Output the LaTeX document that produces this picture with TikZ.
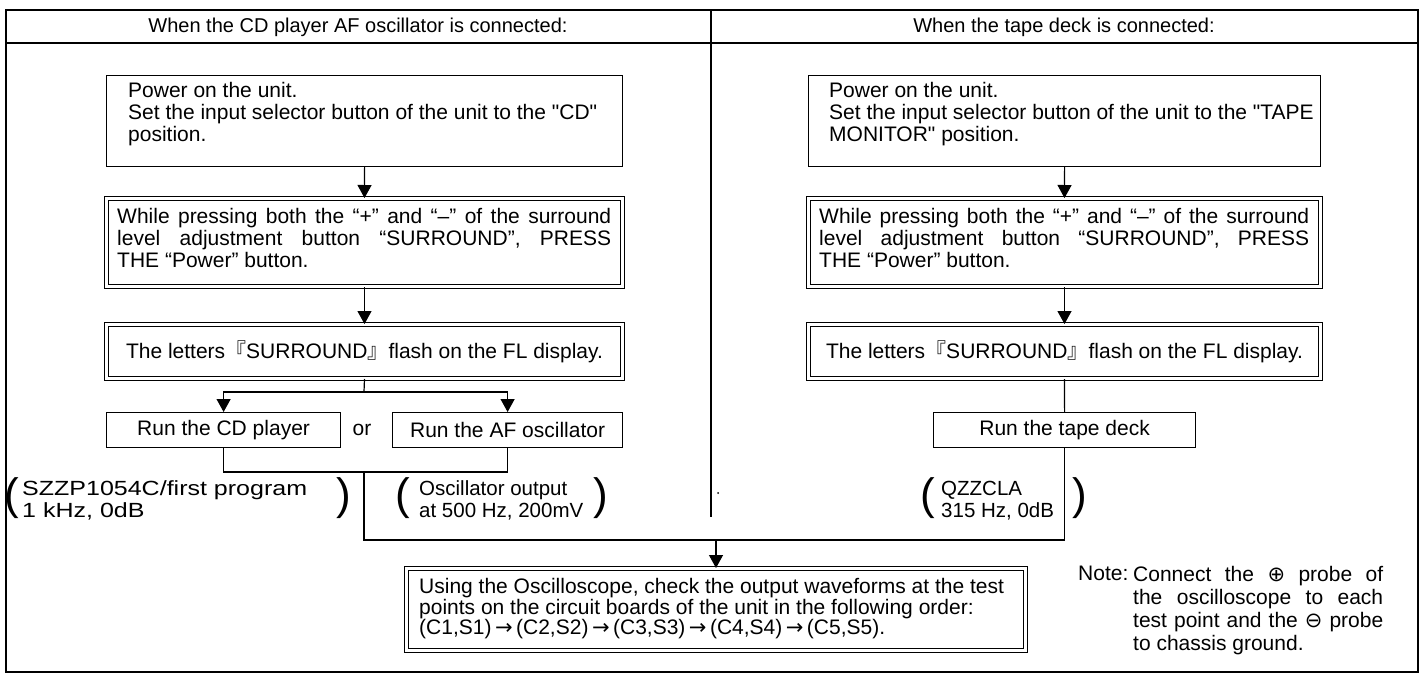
\documentclass[tikz,border=0pt]{standalone}
\usepackage{fontspec}
\setmainfont{Liberation Sans}
\newfontfamily\qfont{Liberation Sans}[Ligatures=TeXOff]
\newfontfamily\widefont{Liberation Sans}[FakeStretch=1.22]
\newfontfamily\cjkfont{Noto Sans CJK JP}
\newfontfamily\symfont{DejaVu Sans}
\newcommand{\sq}{{\qfont\symbol{34}}}
\usetikzlibrary{arrows.meta}
\tikzset{
  txt/.style={font=\fontsize{21}{22}\selectfont, inner sep=0pt},
  hdr/.style={font=\fontsize{20}{22}\selectfont, inner sep=0pt},
  ptxt/.style={font=\fontsize{20.5}{22}\selectfont, inner sep=0pt, anchor=base west},
  wptxt/.style={font={\widefont\fontsize{20.5}{22}\selectfont}, inner sep=0pt, anchor=base west},
  sbox/.style={draw, line width=1.2pt, anchor=north west, inner sep=0pt},
  dbox/.style={draw, line width=1pt, double, double distance=3pt, anchor=north west, inner sep=0pt},
  frameline/.style={line width=1.2pt},
  conn/.style={line width=1.2pt},
  arr/.style={conn, -{Triangle[width=14pt,length=13pt]}},
  paren/.style={font=\fontsize{44}{44}\selectfont, inner sep=0pt},
}
\begin{document}
\begin{tikzpicture}[x=1pt,y=-1pt]
\useasboundingbox (0,0) rectangle (1422,675);
\fill[white] (0,0) rectangle (1422,675);
% frame
\draw[frameline] (6,10) rectangle (1418,672);
\draw[frameline] (6,43) -- (1418,43);
\draw[frameline] (711,10) -- (711,517);
\node[hdr] (hl) at (358,27) {When the CD player AF oscillator is connected:};
\node[hdr] (hr) at (1064,27) {When the tape deck is connected:};
% left column boxes
\node[sbox, minimum width=516pt, minimum height=91pt] (L1) at (106,75) {};
\node[txt, anchor=west, align=left] (L1t) at (128,114)
  {Power on the unit.\\Set the input selector button of the unit to the \sq CD\sq\\position.};
\node[dbox, minimum width=516pt, minimum height=88pt] (L2) at (106,198) {};
\node[txt, anchor=west, text width=494pt, align=justify] (L2t) at (117,238)
  {While pressing both the “+” and “–” of the surround\linebreak level adjustment button “SURROUND”, PRESS\linebreak THE “Power” button.};
\node[dbox, minimum width=516pt, minimum height=54pt, font=\fontsize{21}{22}\selectfont] (L3) at (106,324)
  {The letters{\cjkfont 『}SURROUND{\cjkfont 』}flash on the FL display.};
\node[sbox, minimum width=234pt, minimum height=35pt, font=\fontsize{21}{22}\selectfont] (RCD) at (106,412) {Run the CD player};
\node[txt] (or) at (362,430) {or};
\node[sbox, minimum width=230pt, minimum height=35pt, font=\fontsize{21}{22}\selectfont] (RAF) at (392,412) {Run the AF oscillator};
% right column boxes
\node[sbox, minimum width=512pt, minimum height=91pt] (R1) at (808,75) {};
\node[txt, anchor=west, align=left] (R1t) at (829,114)
  {Power on the unit.\\Set the input selector button of the unit to the \sq TAPE\\MONITOR\sq\ position.};
\node[dbox, minimum width=512pt, minimum height=88pt] (R2) at (808,198) {};
\node[txt, anchor=west, text width=490pt, align=justify] (R2t) at (819,238)
  {While pressing both the “+” and “–” of the surround\linebreak level adjustment button “SURROUND”, PRESS\linebreak THE “Power” button.};
\node[dbox, minimum width=512pt, minimum height=54pt, font=\fontsize{21}{22}\selectfont] (R3) at (808,324)
  {The letters{\cjkfont 『}SURROUND{\cjkfont 』}flash on the FL display.};
\node[sbox, minimum width=262pt, minimum height=35pt, font=\fontsize{21}{22}\selectfont] (TAPE) at (933,412) {Run the tape deck};
% parenthesised notes
\node[paren] (p1l) at (12,498) {(};
\node[wptxt] (p1a) at (22,495) {SZZP1054C/first program};
\node[wptxt] (p1b) at (22,517) {1 kHz, 0dB};
\node[paren] (p1r) at (344,498) {)};
\node[paren] (p2l) at (403,498) {(};
\node[ptxt] (p2a) at (419,495) {Oscillator output};
\node[ptxt] (p2b) at (419,517) {at 500 Hz, 200mV};
\node[paren] (p2r) at (601,498) {)};
\node[paren] (p3l) at (928,498) {(};
\node[ptxt] (p3a) at (941,495) {QZZCLA};
\node[ptxt] (p3b) at (941,517) {315 Hz, 0dB};
\node[paren] (p3r) at (1080,498) {)};
% bottom box
\node[dbox, minimum width=619pt, minimum height=82pt] (B) at (406,568) {};
\node[txt, anchor=west, align=left, font=\fontsize{21}{20.5}\selectfont] (Bt) at (419,609)
  {Using the Oscilloscope, check the output waveforms at the test\\points on the circuit boards of the unit in the following order:\\(C1,S1)\,{\symfont →}\,(C2,S2)\,{\symfont →}\,(C3,S3)\,{\symfont →}\,(C4,S4)\,{\symfont →}\,(C5,S5).};
% note
\node[txt, anchor=north west] (note) at (1078,566) {Note:};
\node[txt, anchor=north west, text width=250pt, align=justify, font=\fontsize{21}{23}\selectfont] (notebody) at (1133,566)
  {Connect the {\symfont ⊕} probe of\linebreak the oscilloscope to each\linebreak test point and the {\symfont ⊖} probe\linebreak to chassis ground.};
% connectors
\coordinate (split) at (364,392);
\coordinate (join) at (364,472);
\coordinate (coll) at (364,540);
\draw[arr] (L1.south) -- (L2.north);
\draw[arr] (L2.south) -- (L3.north);
\draw[conn] (L3.south) -- (split);
\draw[arr] (split) -| (RCD.north);
\draw[arr] (split) -| (RAF.north);
\draw[conn] (RCD.south) |- (join);
\draw[conn] (RAF.south) |- (join);
\draw[conn] (join) -- (coll) -| (TAPE.south);
\draw[arr] (coll -| B.north) -- (B.north);
\draw[arr] (R1.south) -- (R2.north);
\draw[arr] (R2.south) -- (R3.north);
\draw[conn] (R3.south) -- (TAPE.north);
\fill (718,493) circle (1pt);
\end{tikzpicture}
\end{document}
